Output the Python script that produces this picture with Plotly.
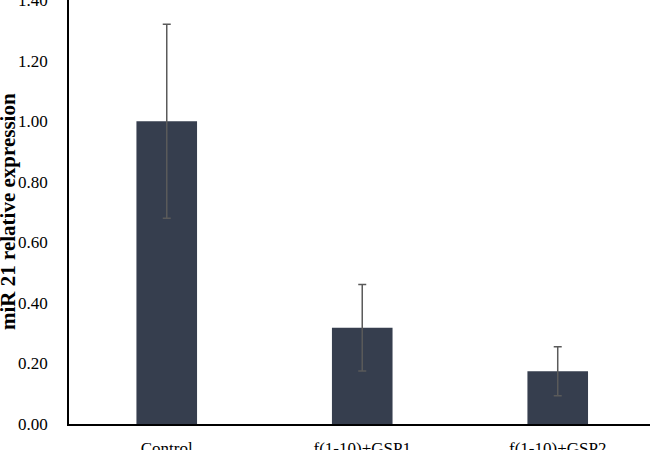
import plotly.graph_objects as go

categories = ["Control", "f(1-10)+GSP1", "f(1-10)+GSP2"]
values = [1.00, 0.318, 0.174]
errors = [0.32, 0.143, 0.081]
y_ticks = [0.0, 0.2, 0.4, 0.6, 0.8, 1.0, 1.2, 1.4]
y_tick_labels = ["0.00", "0.20", "0.40", "0.60", "0.80", "1.00", "1.20", "1.40"]
y_title = "miR 21 relative expression"

FONT = "Liberation Serif, Times New Roman, serif"
L, R, T, B = 69, 0, 0, 26
W, H = 650, 450

fig = go.Figure(
    go.Bar(
        x=categories,
        y=values,
        width=0.31,
        marker=dict(color="#363E4E", line=dict(width=0)),
        error_y=dict(type="data", array=errors, visible=True,
                     color="#5A5A5A", thickness=1.5, width=4),
    )
)

fig.update_layout(
    width=W, height=H,
    margin=dict(l=L, r=R, t=T, b=B, pad=0, autoexpand=False),
    paper_bgcolor="white", plot_bgcolor="white",
    showlegend=False,
    font=dict(family=FONT, color="black", size=17),
    xaxis=dict(
        range=[-0.5, 2.472],
        automargin=False,
        showline=True, linecolor="black", linewidth=2,
        showgrid=False, zeroline=False, ticks="",
        ticklabelstandoff=8,
        tickfont=dict(family=FONT, size=17, color="black"),
    ),
    yaxis=dict(
        range=[0, 1.4005],
        automargin=False,
        tickvals=y_ticks, ticktext=y_tick_labels,
        ticklabeloverflow="allow",
        showline=True, linecolor="black", linewidth=1.5,
        showgrid=False, zeroline=False, ticks="",
        ticklabelstandoff=16,
        tickfont=dict(family=FONT, size=17, color="black"),
    ),
    annotations=[dict(
        text="<b>" + y_title + "</b>",
        xref="paper", yref="paper",
        x=(8 - L) / (W - L - R), y=0.5,
        xanchor="center", yanchor="middle",
        textangle=-90, showarrow=False,
        font=dict(family=FONT, size=21, color="black"),
    )],
)

fig.write_html("out.html", config={"displayModeBar": False},
               post_script="document.body.style.margin='0';")
